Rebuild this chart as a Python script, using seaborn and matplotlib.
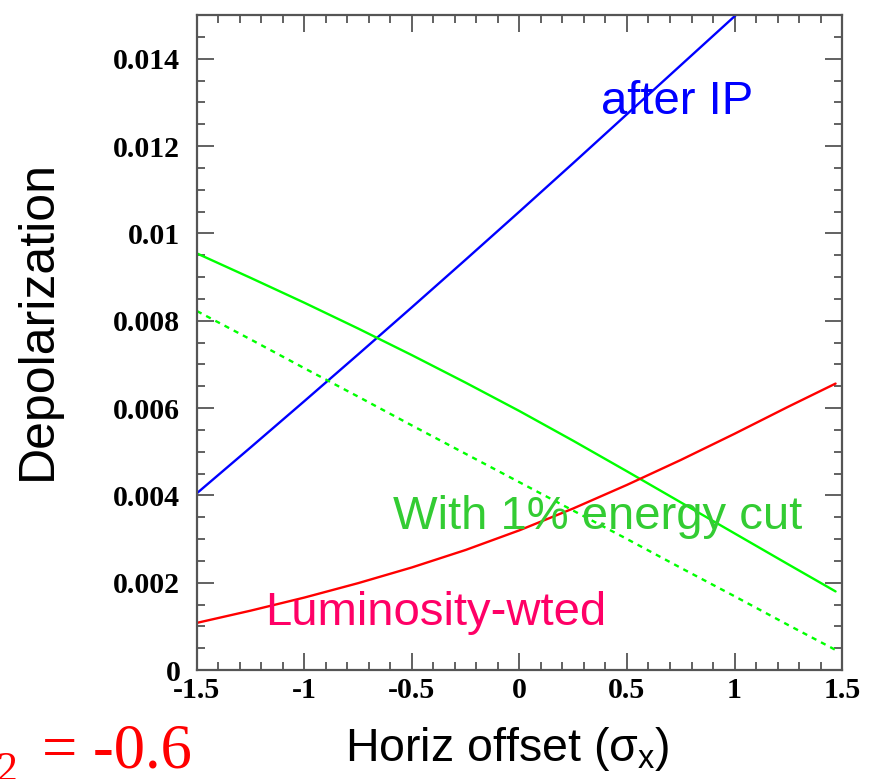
import matplotlib
matplotlib.use('Agg')
import matplotlib.pyplot as plt
import seaborn as sns
from matplotlib.ticker import MultipleLocator, FuncFormatter

sns.set_style('ticks')
plt.rcParams['font.family'] = ['Liberation Sans', 'DejaVu Sans']
plt.rcParams['text.color'] = 'black'
plt.rcParams['axes.labelcolor'] = 'black'
plt.rcParams['mathtext.fontset'] = 'custom'
plt.rcParams['mathtext.rm'] = 'Liberation Sans'
plt.rcParams['mathtext.it'] = 'Liberation Sans'

# horizontal offset in units of sigma_x
offset = [-1.5, -1.25, -1.0, -0.75, -0.5, -0.25, 0.0, 0.25, 0.5, 0.75, 1.0, 1.25, 1.47]
after_ip = [0.00405, 0.0051, 0.00616, 0.00723, 0.00831, 0.0094, 0.0105,
            0.01161, 0.01273, 0.01385, 0.01497, 0.0161, 0.0171]
energy_cut = [0.00954, 0.00898, 0.00841, 0.00782, 0.00721, 0.00658, 0.00593,
              0.00525, 0.00455, 0.00384, 0.00313, 0.00242, 0.0018]
energy_cut_dash = [0.00822, 0.00757, 0.00691, 0.00626, 0.0056, 0.00495, 0.0043,
                   0.00365, 0.003, 0.00234, 0.00169, 0.00103, 0.00046]
lumi_wted = [0.00108, 0.00136, 0.00166, 0.00199, 0.00235, 0.00275, 0.0032,
             0.0037, 0.00424, 0.00481, 0.00541, 0.00603, 0.00656]

fig = plt.figure(figsize=(8.75, 7.79), dpi=100)
ax = fig.add_axes([0.2251, 0.1399, 0.7372, 0.8408])

sns.lineplot(x=offset, y=after_ip, ax=ax, color='#0000ff', lw=1.7)
sns.lineplot(x=offset, y=energy_cut, ax=ax, color='#00ff00', lw=1.7)
sns.lineplot(x=offset, y=energy_cut_dash, ax=ax, color='#00ff00', lw=1.7,
             linestyle=(0, (2.2, 2.2)))
sns.lineplot(x=offset, y=lumi_wted, ax=ax, color='#ff0000', lw=1.7)

ax.set_xlim(-1.5, 1.5)
ax.set_ylim(0, 0.015)
ax.xaxis.set_major_locator(MultipleLocator(0.5))
ax.xaxis.set_minor_locator(MultipleLocator(0.1))
ax.yaxis.set_major_locator(MultipleLocator(0.002))
ax.yaxis.set_minor_locator(MultipleLocator(0.0005))
ax.xaxis.set_major_formatter(FuncFormatter(lambda v, p: '%g' % round(v, 3)))
ax.yaxis.set_major_formatter(FuncFormatter(lambda v, p: '%g' % round(v, 4)))

for s in ax.spines.values():
    s.set_color('#555555')
    s.set_linewidth(1.6)
ax.tick_params(which='both', direction='in', top=True, right=True,
               color='#555555', width=1.3, labelcolor='black')
ax.tick_params(which='major', length=12)
ax.tick_params(which='minor', length=6)
ax.tick_params(axis='y', which='major', pad=12)
ax.tick_params(axis='x', which='major', pad=5)
for lab in ax.get_xticklabels() + ax.get_yticklabels():
    lab.set_fontfamily('Liberation Serif')
    lab.set_fontweight('bold')
    lab.set_fontsize(21.5)

ax.set_xlabel(r'Horiz offset ($\sigma_{\mathrm{x}}$)', fontsize=33.5, labelpad=15)
ax.xaxis.label.set_x(0.481)
ax.set_ylabel('Depolarization', fontsize=36, labelpad=38)
ax.yaxis.label.set_y(0.534)

ax.text(0.381, 0.01274, 'after IP', color='#0000ff', fontsize=34)
ax.text(-0.59, 0.00322, 'With 1% energy cut', color='#33cc33', fontsize=34)
ax.text(-1.185, 0.00103, 'Luminosity-wted', color='#ff0066', fontsize=34)

fig.text(-0.004, -0.003, '2', color='#ff0000', fontsize=30,
         fontfamily='Liberation Serif', va='baseline')
fig.text(42 / 875, 11 / 779, '= -0.6', color='#ff0000', fontsize=45,
         fontfamily='Liberation Serif', va='baseline')

fig.savefig('out.png', dpi=100)
